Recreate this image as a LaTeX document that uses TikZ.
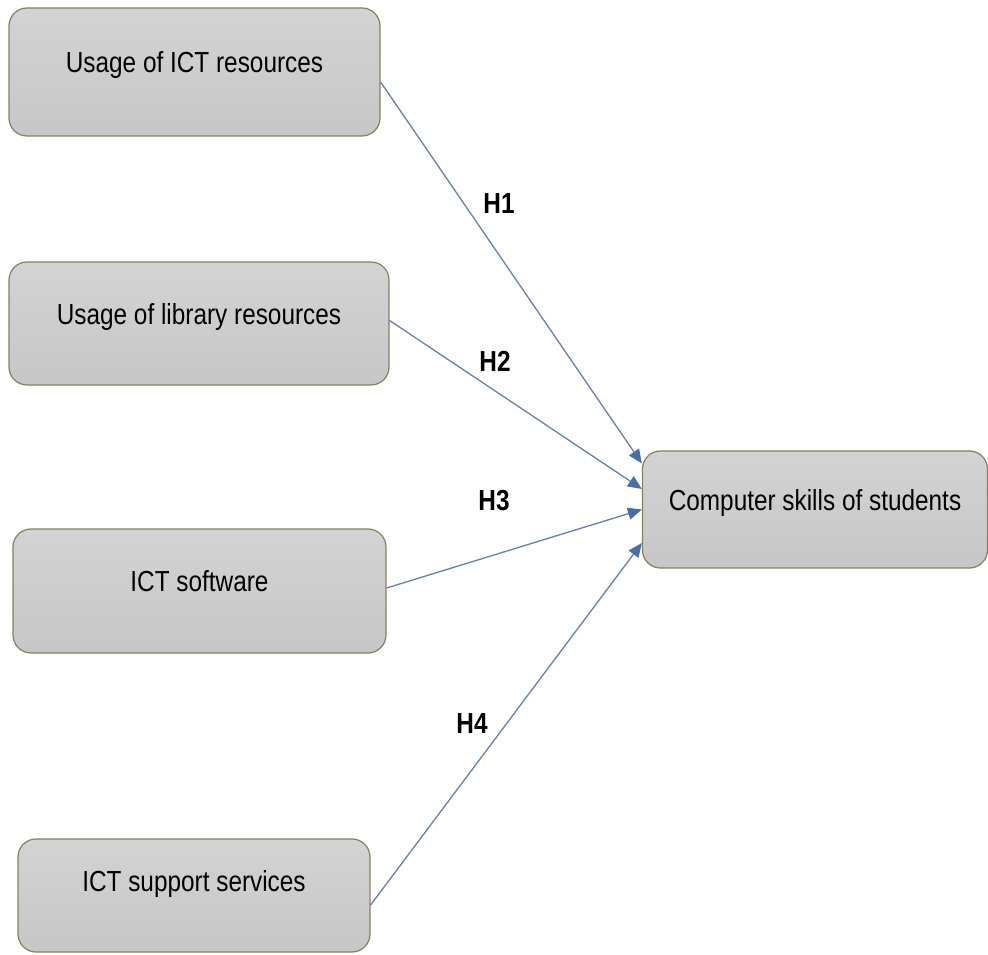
\documentclass[tikz,border=0pt]{standalone}
\usepackage{fontspec}
\setmainfont{Liberation Sans}[FakeStretch=0.84]
\usetikzlibrary{arrows.meta}
\definecolor{boxfill}{HTML}{CDCDCD}
\definecolor{boxtop}{HTML}{D3D3D3}
\definecolor{boxedge}{HTML}{86805E}
\definecolor{linkblue}{HTML}{6880A6}
\definecolor{tipblue}{HTML}{4A6EA6}
\tikzset{
  factor/.style={draw=boxedge, line width=1.2pt, rounded corners=18pt,
    top color=boxtop, bottom color=boxfill!97!black, inner sep=0pt,
    font=\fontsize{29}{32}\selectfont, text height=22pt, text depth=20pt},
  link/.style={draw=linkblue, line width=1.3pt,
    -{Triangle[length=14pt,width=12pt,color=tipblue]}},
  hyp/.style={font=\fontsize{29}{32}\selectfont\bfseries, inner sep=0pt}
}
\begin{document}
\begin{tikzpicture}[x=1pt,y=1pt]
\useasboundingbox (0,0) rectangle (988,954);
% factor boxes (pixel rows measured from the top: y = 954 - row)
\node[factor, minimum width=371pt, minimum height=128pt] (b1) at (194.5,882) {Usage of ICT resources};
\node[factor, minimum width=380pt, minimum height=123pt] (b2) at (199,630.5) {Usage of library resources};
\node[factor, minimum width=373pt, minimum height=124pt] (b3) at (199.5,363) {ICT software};
\node[factor, minimum width=352pt, minimum height=113pt, text depth=31pt] (b4) at (194,58.5) {ICT support services};
\node[factor, minimum width=345pt, minimum height=117pt] (t) at (815,444.5) {Computer skills of students};
% hypothesis links
\draw[link] ([yshift=-10pt]b1.east) -- ([yshift=46pt]t.west);
\draw[link] ([yshift=3pt]b2.east) -- ([yshift=20.5pt]t.west);
\draw[link] ([yshift=3pt]b3.east) -- ([yshift=0pt]t.west);
\draw[link] ([yshift=-9.5pt]b4.east) -- ([yshift=-33.5pt]t.west);
% hypothesis labels
\node[hyp] (h1) at (499,750) {H1};
\node[hyp] (h2) at (495,593) {H2};
\node[hyp] (h3) at (494,453) {H3};
\node[hyp] (h4) at (472,230) {H4};
\end{tikzpicture}
\end{document}
